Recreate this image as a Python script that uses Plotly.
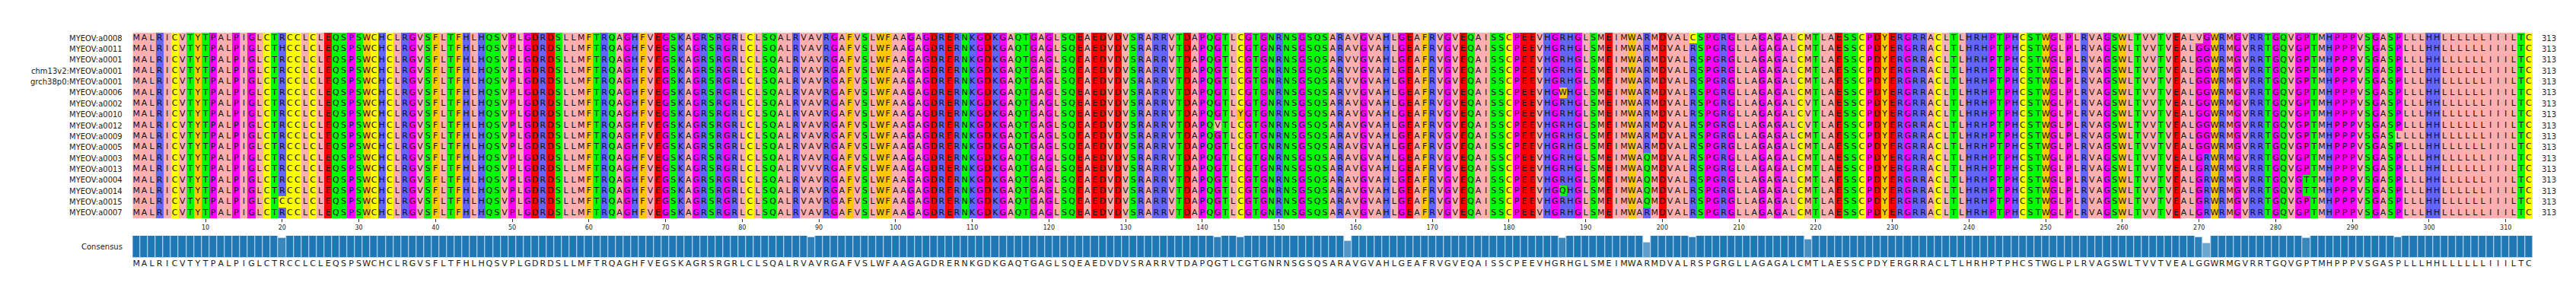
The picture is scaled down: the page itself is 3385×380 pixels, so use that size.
import plotly.graph_objects as go

W, H = 3385, 380

# ---------------- data ----------------
record_names = [
    "MYEOV:a0008", "MYEOV:a0011", "MYEOV:a0001", "chm13v2:MYEOV:a0001",
    "grch38p0:MYEOV:a0001", "MYEOV:a0006", "MYEOV:a0002", "MYEOV:a0010",
    "MYEOV:a0012", "MYEOV:a0009", "MYEOV:a0005", "MYEOV:a0003",
    "MYEOV:a0013", "MYEOV:a0004", "MYEOV:a0014", "MYEOV:a0015", "MYEOV:a0007",
]

# shared (majority) residues, 10 per chunk
reference_chunks = [
    "MALRICVTYT", "PALPIGLCTR", "CCLCLEQSPS", "WCHCLRGVSF", "LTFHLHQSVP",
    "LGDRDSLLMF", "TRQAGHFVEG", "SKAGRSRGRL", "CLSQALRVAV", "RGAFVSLWFA",
    "AGAGDRERNK", "GDKGAQTGAG", "LSQEAEDVDV", "SRARRVTDAP", "QGTLCGTGNR",
    "NSGSQSARAV", "GVAHLGEAFR", "VGVEQAISSC", "PEEVHGRHGL", "SMEIMWARMD",
    "VALRSPGRGL", "LAGAGALCMT", "LAESSCPDYE", "RGRRACLTLH", "RHPTPHCSTW",
    "GLPLRVAGSW", "LTVVTVEALG", "GWRMGVRRTG", "QVGPTMHPPP", "VSGASPLLLH",
    "HLLLLLLIII", "LTC",
]

# (record, 1-based position, residue) differing from the shared residue
substitutions = [
    ("MYEOV:a0011", 20, "H"), ("MYEOV:a0015", 20, "C"),
    ("MYEOV:a0013", 89, "V"),
    ("MYEOV:a0012", 142, "V"),
    ("MYEOV:a0010", 145, "Y"),
    ("MYEOV:a0001", 159, "V"), ("chm13v2:MYEOV:a0001", 159, "V"),
    ("grch38p0:MYEOV:a0001", 159, "V"), ("MYEOV:a0006", 159, "V"),
    ("MYEOV:a0006", 187, "W"), ("MYEOV:a0014", 187, "Q"),
    ("MYEOV:a0003", 198, "Q"), ("MYEOV:a0013", 198, "Q"),
    ("MYEOV:a0004", 198, "Q"), ("MYEOV:a0014", 198, "Q"),
    ("MYEOV:a0015", 198, "Q"),
    ("MYEOV:a0008", 204, "C"),
    ("MYEOV:a0002", 219, "V"), ("MYEOV:a0010", 219, "V"),
    ("MYEOV:a0012", 219, "V"),
    ("MYEOV:a0008", 270, "V"),
    ("MYEOV:a0003", 271, "R"), ("MYEOV:a0013", 271, "R"),
    ("MYEOV:a0004", 271, "R"), ("MYEOV:a0014", 271, "R"),
    ("MYEOV:a0015", 271, "R"), ("MYEOV:a0007", 271, "R"),
    ("MYEOV:a0004", 284, "T"), ("MYEOV:a0014", 284, "T"),
    ("MYEOV:a0009", 296, "L"),
]

tick_positions = list(range(10, 311, 10))

# Zappo colour scheme
zappo_groups = [
    ("ILVAM", "#FFAFAF"),
    ("FWY", "#FFC800"),
    ("KRH", "#6464FF"),
    ("DE", "#FF0000"),
    ("STNQ", "#00FF00"),
    ("PG", "#FF00FF"),
    ("C", "#FFFF00"),
]
consensus_color = (31, 119, 180)

# ---------------- build alignment ----------------
reference_seq = "".join(reference_chunks)
L = len(reference_seq)
seqs = {name: list(reference_seq) for name in record_names}
for name, pos, res in substitutions:
    seqs[name][pos - 1] = res
seq_list = ["".join(seqs[n]) for n in record_names]
n_rec = len(seq_list)

res_group = {}
for gi, (letters, _) in enumerate(zappo_groups):
    for ch in letters:
        res_group[ch] = gi

positions = list(range(1, L + 1))
z = [[res_group[s[j]] for j in range(L)] for s in seq_list]

cons_letters, cons_ident = [], []
for j in range(L):
    col = [s[j] for s in seq_list]
    best = max(set(col), key=lambda c: (col.count(c), c == reference_seq[j]))
    cons_letters.append(best)
    cons_ident.append(col.count(best) / n_rec)

ng = len(zappo_groups)
colorscale = []
for gi, (_, c) in enumerate(zappo_groups):
    colorscale.append([gi / ng, c])
    colorscale.append([(gi + 1) / ng, c])

# ---------------- geometry (pixels) ----------------
px_x0, px_x1 = 166.3, 3320.0
msa_top, msa_bot = 35.0, 279.0
cons_top, cons_base = 302.0, 331.0
cons_axis_bottom = 350.0
unit_px = cons_base - cons_top           # pixels for identity 1.0
y2_min = -(cons_axis_bottom - cons_base) / unit_px
letter_y = -(339.0 - cons_base) / unit_px


def fx(px):
    return px / W


def fy(py):
    return 1 - py / H


FONT = "DejaVu Sans"

fig = go.Figure()

fig.add_trace(go.Heatmap(
    z=z, x=positions, y=list(range(n_rec)),
    colorscale=colorscale, zmin=-0.5, zmax=ng - 0.5,
    showscale=False, hoverinfo="skip", xaxis="x", yaxis="y",
))

tx, ty, tt = [], [], []
for i, s in enumerate(seq_list):
    for j, ch in enumerate(s):
        tx.append(j + 1)
        ty.append(i)
        tt.append(ch)
fig.add_trace(go.Scatter(
    x=tx, y=ty, text=tt, mode="text",
    textfont=dict(family=FONT, size=11, color="#111111"),
    hoverinfo="skip", xaxis="x", yaxis="y", showlegend=False,
))

bar_colors = [
    "rgba(%d,%d,%d,%.3f)" % (consensus_color + (v,)) for v in cons_ident
]
fig.add_trace(go.Bar(
    x=positions, y=cons_ident, width=1, base=0,
    marker=dict(color=bar_colors, line=dict(color="#bcd6ec", width=1)),
    hoverinfo="skip", xaxis="x2", yaxis="y2", showlegend=False,
))
fig.add_trace(go.Scatter(
    x=positions, y=[letter_y] * L, text=cons_letters, mode="text",
    textfont=dict(family=FONT, size=11, color="#1a1a1a"),
    cliponaxis=False, hoverinfo="skip", xaxis="x2", yaxis="y2",
    showlegend=False,
))

annotations = []
for i, name in enumerate(record_names):
    annotations.append(dict(
        x=fx(155), xref="paper", y=i, yref="y", text=name,
        xanchor="right", yanchor="middle", showarrow=False,
        font=dict(family=FONT, size=10, color="#222222"),
    ))
    annotations.append(dict(
        x=fx(3330), xref="paper", y=i, yref="y",
        text=str(len(seq_list[i].replace("-", ""))),
        xanchor="left", yanchor="middle", showarrow=False,
        font=dict(family=FONT, size=10, color="#222222"),
    ))
annotations.append(dict(
    x=fx(155), xref="paper", y=fy((cons_top + cons_base) / 2), yref="paper",
    text="Consensus", xanchor="right", yanchor="middle", showarrow=False,
    font=dict(family=FONT, size=10, color="#222222"),
))

fig.update_layout(
    width=W, height=H,
    margin=dict(l=0, r=0, t=0, b=0),
    paper_bgcolor="white", plot_bgcolor="white",
    bargap=0, showlegend=False,
    annotations=annotations,
    xaxis=dict(
        domain=[fx(px_x0), fx(px_x1)], range=[0.5, L + 0.5],
        showgrid=False, zeroline=False, showline=False,
        tickmode="array", tickvals=tick_positions,
        ticktext=[str(t) for t in tick_positions],
        ticks="outside", ticklen=4, tickwidth=1, tickcolor="#333333",
        tickfont=dict(family=FONT, size=8, color="#222222"),
    ),
    yaxis=dict(
        domain=[fy(msa_bot), fy(msa_top)], range=[n_rec - 0.5, -0.5],
        showgrid=False, zeroline=False, showline=False,
        showticklabels=False, ticks="",
    ),
    xaxis2=dict(
        domain=[fx(px_x0), fx(px_x1)], range=[0.5, L + 0.5], matches="x",
        showgrid=False, zeroline=False, showline=False,
        showticklabels=False, ticks="", anchor="y2",
    ),
    yaxis2=dict(
        domain=[fy(cons_axis_bottom), fy(cons_top)], range=[y2_min, 1.0],
        showgrid=False, zeroline=False, showline=False,
        showticklabels=False, ticks="", anchor="x2",
    ),
)

fig.write_html("out.html")
